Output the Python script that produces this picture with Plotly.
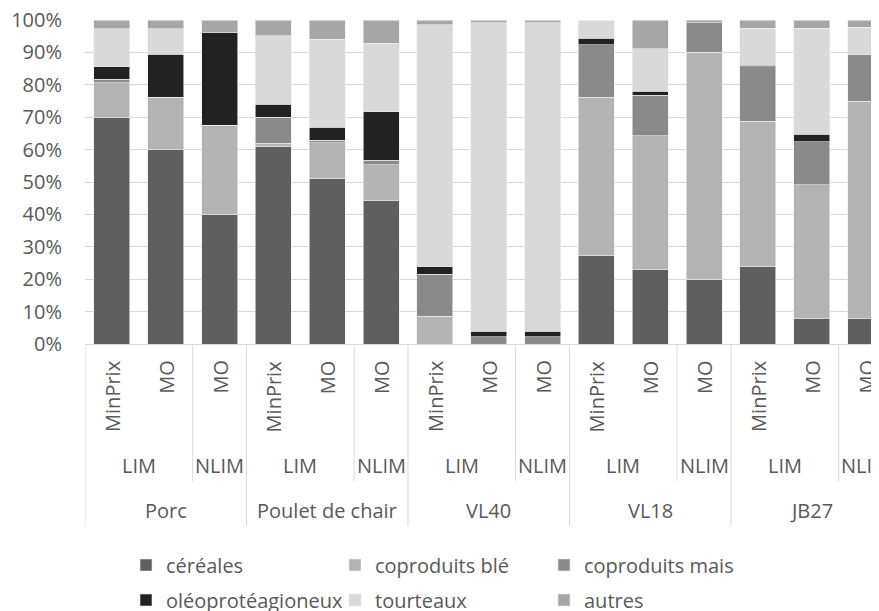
import plotly.graph_objects as go

# ---- data ----
species = ["Porc", "Poulet de chair", "VL40", "VL18", "JB27"]
limits = ["LIM", "LIM", "NLIM"]
scenarios = ["MinPrix", "MO", "MO"]

cereales = [70.0, 60.0, 40.0, 61.0, 51.0, 44.2, 0.0, 0.0, 0.0, 27.3, 23.0, 20.0, 23.8, 7.9, 7.9]
coproduits_ble = [10.7, 16.2, 27.6, 1.0, 11.1, 11.1, 8.6, 0.0, 0.0, 48.9, 41.3, 70.1, 44.9, 41.2, 67.1]
coproduits_mais = [1.0, 0.0, 0.0, 8.1, 0.8, 1.4, 12.9, 2.2, 2.2, 16.2, 12.4, 9.1, 16.8, 13.3, 14.3]
oleoproteagineux = [3.9, 13.3, 28.6, 4.0, 3.9, 14.9, 2.3, 1.8, 1.8, 2.0, 1.3, 0.0, 0.6, 2.3, 0.0]
tourteaux = [11.7, 7.9, 0.0, 21.1, 27.1, 21.2, 74.7, 95.2, 95.2, 5.6, 13.2, 0.0, 11.4, 32.8, 8.4]
autres = [2.7, 2.7, 4.0, 4.9, 6.0, 7.1, 1.5, 0.8, 0.8, 0.0, 8.8, 0.8, 2.5, 2.5, 2.3]

y_tick_values = list(range(0, 101, 10))
y_tick_labels = [f"{v}%" for v in y_tick_values]

series_names = ["céréales", "coproduits blé", "coproduits mais",
                "oléoprotéagioneux", "tourteaux", "autres"]
series_values = [cereales, coproduits_ble, coproduits_mais,
                 oleoproteagineux, tourteaux, autres]
series_colors = ["#5f5f5f", "#b3b3b3", "#8a8a8a", "#222222", "#d9d9d9", "#a6a6a6"]

# ---- categories ----
keys, lvl1, lvl2, lvl3 = [], [], [], []
for sp in species:
    for lim, sc in zip(limits, scenarios):
        keys.append(f"{sp}|{lim}|{sc}")
        lvl1.append(sc)
        lvl2.append(lim)
        lvl3.append(sp)

FONT = "Open Sans, Liberation Sans, sans-serif"
TXT = "#595959"
GRID = "#d9d9d9"

# page body has an 8px default margin -> figure is drawn 8px right/down
OFF = 8
W, H = 879 - OFF, 611 - OFF
ML, MT, MB = 85 - OFF, 20 - OFF, 267
plot_h = H - MT - MB
plot_w = W - ML


def py(p):
    """screen pixel y -> paper y"""
    return (344 - p) / plot_h


def px(p):
    """screen pixel x -> paper x"""
    return (p - 85) / plot_w


fig = go.Figure()
for i, (name, vals, col) in enumerate(zip(series_names, series_values, series_colors)):
    fig.add_trace(go.Bar(
        x=keys, y=vals, name=name,
        marker=dict(color=col, line=dict(color="#ececec", width=0.6)),
        legend="legend" if i < 3 else "legend2",
        hoverinfo="skip",
    ))

annotations = []
# level 1 (rotated)
for k, t in zip(keys, lvl1):
    annotations.append(dict(x=k, y=py(358), xref="x", yref="paper", text=t,
                            textangle=-90, xanchor="center", yanchor="top",
                            showarrow=False, font=dict(family=FONT, size=20, color=TXT)))
shapes = []
n = len(keys)
# level 2 groups
groups2 = []
i = 0
while i < n:
    j = i
    while j + 1 < n and lvl2[j + 1] == lvl2[i] and lvl3[j + 1] == lvl3[i]:
        j += 1
    groups2.append((i, j, lvl2[i]))
    i = j + 1
for a, b, t in groups2:
    annotations.append(dict(x=(a + b) / 2, y=py(466), xref="x", yref="paper", text=t,
                            xanchor="center", yanchor="middle", showarrow=False,
                            font=dict(family=FONT, size=20, color=TXT)))
# level 3 groups
groups3 = []
i = 0
while i < n:
    j = i
    while j + 1 < n and lvl3[j + 1] == lvl3[i]:
        j += 1
    groups3.append((i, j, lvl3[i]))
    i = j + 1
for a, b, t in groups3:
    annotations.append(dict(x=(a + b) / 2, y=py(511), xref="x", yref="paper", text=t,
                            xanchor="center", yanchor="middle", showarrow=False,
                            font=dict(family=FONT, size=20, color=TXT)))

# separators
level3_bounds = set([a - 0.5 for a, b, t in groups3] + [groups3[-1][1] + 0.5])
level2_bounds = set(a - 0.5 for a, b, t in groups2) - level3_bounds
for xb in sorted(level3_bounds):
    shapes.append(dict(type="line", xref="x", yref="paper", x0=xb, x1=xb,
                       y0=0, y1=py(526), line=dict(color=GRID, width=1)))
for xb in sorted(level2_bounds):
    shapes.append(dict(type="line", xref="x", yref="paper", x0=xb, x1=xb,
                       y0=0, y1=py(481), line=dict(color=GRID, width=1)))

leg_common = dict(orientation="h", xanchor="left", yanchor="middle",
                  font=dict(family=FONT, size=20, color=TXT),
                  itemwidth=30, entrywidth=164, entrywidthmode="pixels",
                  bgcolor="rgba(0,0,0,0)", traceorder="normal")

fig.update_layout(
    width=W, height=H,
    margin=dict(l=ML, r=0, t=MT, b=MB, autoexpand=False),
    paper_bgcolor="white", plot_bgcolor="white",
    barmode="stack", barnorm="percent", bargap=0.33,
    showlegend=True,
    legend=dict(x=px(126), y=py(565), **leg_common),
    legend2=dict(x=px(126), y=py(600), **leg_common),
    xaxis=dict(type="category", range=[-0.5, 14.25], showticklabels=False,
               showgrid=False, showline=True, linecolor=GRID, linewidth=1,
               ticks="", zeroline=False, fixedrange=True, automargin=False),
    yaxis=dict(range=[0, 100], tickmode="array", tickvals=y_tick_values,
               ticktext=y_tick_labels, ticklabeloverflow="allow",
               showgrid=True, gridcolor=GRID, gridwidth=1, showline=False,
               zeroline=False, ticks="", ticklabelstandoff=22, automargin=False,
               tickfont=dict(family=FONT, size=20, color=TXT), fixedrange=True),
    annotations=annotations,
    shapes=shapes,
)

fig.write_html("out.html")
